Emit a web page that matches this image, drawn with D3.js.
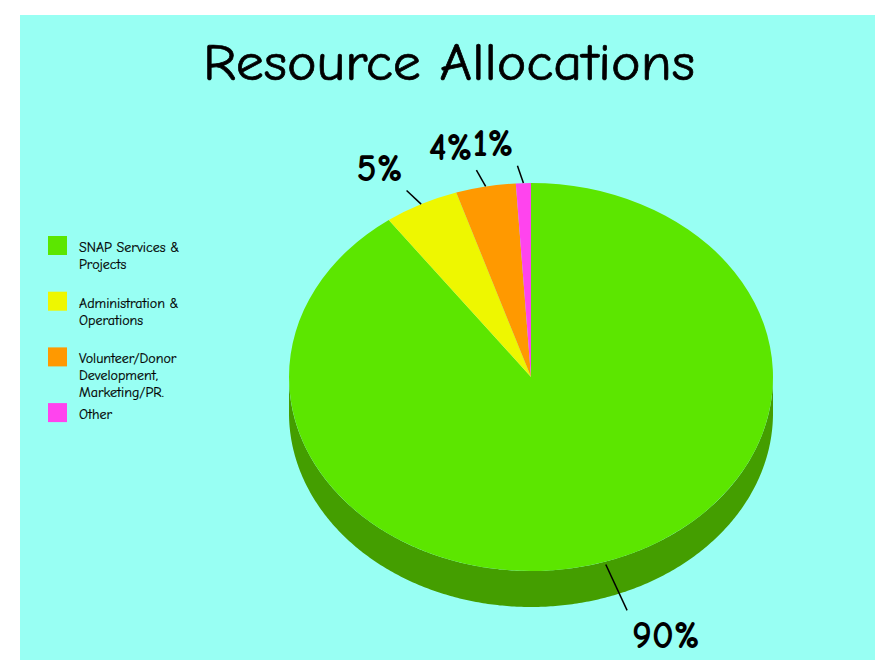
<!DOCTYPE html>
<html>
<head>
<meta charset="utf-8">
<script src="https://cdnjs.cloudflare.com/ajax/libs/d3/7.8.5/d3.min.js"></script>
<style>
  body { margin: 0; background: #fff; }
  svg { display: block; }
  text { font-family: "Comic Sans MS", "Comic Neue", "DejaVu Sans", sans-serif; fill: #000; }
</style>
</head>
<body>
<div id="vis"></div>
<script>
// chart data
var categories = ["SNAP Services & Projects", "Administration & Operations",
                  "Volunteer/Donor Development, Marketing/PR.", "Other"];
var legendLines = [["SNAP Services &", "Projects"],
                   ["Administration &", "Operations"],
                   ["Volunteer/Donor", "Development,", "Marketing/PR."],
                   ["Other"]];
var values = [90, 5, 4, 1];
var colors = ["#5ce600", "#eef700", "#ff9900", "#ff44ee"];
var sideColors = ["#449e00", "#b2b900", "#bf7300", "#bf33b2"];

var width = 891,
    height = 660;

var svg = d3.select("#vis").append("svg")
    .attr("width", width)
    .attr("height", height);

svg.append("rect")
    .attr("x", 20).attr("y", 15)
    .attr("width", width - 36).attr("height", height - 15)
    .attr("fill", "#98fff3");

svg.append("text")
    .attr("x", 449).attr("y", 80)
    .attr("text-anchor", "middle")
    .attr("font-size", 53)
    .attr("textLength", 492)
    .attr("lengthAdjust", "spacingAndGlyphs")
    .attr("stroke", "#000").attr("stroke-width", 0.7)
    .text("Resource Allocations");

// pie geometry
var cx = 531, cy = 377, rx = 242, ry = 194, depth = 36;
var sy = ry / rx;

var pie = d3.pie().sort(null).value(function(d) { return d; });
var arcs = pie(values);

function pt(a, r) {
  return [cx + Math.sin(a) * rx * r, cy - Math.cos(a) * ry * r];
}

// side wall (only the front half is visible)
var line = d3.line();
var side = svg.append("g").attr("class", "side");
arcs.forEach(function(d, i) {
  var a0 = Math.max(d.startAngle, Math.PI / 2),
      a1 = Math.min(d.endAngle, Math.PI * 1.5);
  if (a1 <= a0) return;
  var steps = d3.range(a0, a1, 0.01).concat([a1]);
  var top = steps.map(function(a) { return pt(a, 1); });
  var bottom = steps.slice().reverse().map(function(a) {
    var p = pt(a, 1); return [p[0], p[1] + depth];
  });
  side.append("path")
      .attr("d", line(top.concat(bottom)) + "Z")
      .attr("fill", sideColors[i]);
});

// top face
var arc = d3.arc().innerRadius(0).outerRadius(rx);
svg.append("g")
    .attr("transform", "translate(" + cx + "," + cy + ") scale(1," + sy + ")")
  .selectAll("path")
  .data(arcs)
  .enter().append("path")
    .attr("d", arc)
    .attr("fill", function(d, i) { return colors[i]; });

// leader lines and percent labels
var labels = svg.append("g").attr("class", "labels");
arcs.forEach(function(d, i) {
  var mid = (d.startAngle + d.endAngle) / 2;
  var front = Math.cos(mid) < 0;
  var p0 = pt(mid, 1);
  var p1 = pt(mid - 0.02, front ? 1.11 : 1.09);
  if (front) { p0[1] += 3; p1[1] += depth - 6; p1[0] += 8; }
  labels.append("line")
      .attr("x1", p0[0]).attr("y1", p0[1])
      .attr("x2", p1[0]).attr("y2", p1[1])
      .attr("stroke", "#000").attr("stroke-width", 1.5);
  labels.append("text")
      .attr("x", front ? p1[0] + 5 : p1[0] - 4)
      .attr("y", front ? p1[1] + 38 : p1[1] - 10)
      .attr("text-anchor", front ? "start" : "end")
      .attr("font-size", 38)
      .attr("font-weight", "bold")
      .text(values[i] + "%");
});

// legend
var legend = svg.append("g").attr("class", "legend")
  .selectAll("g")
  .data(categories)
  .enter().append("g")
    .attr("transform", function(d, i) { return "translate(48," + (236 + i * 55.7) + ")"; });

legend.append("rect")
    .attr("width", 19).attr("height", 19)
    .attr("fill", function(d, i) { return colors[i]; });

legend.append("text")
    .attr("x", 31).attr("y", 16)
    .attr("font-size", 14)
    .attr("stroke", "#000").attr("stroke-width", 0.2)
  .selectAll("tspan")
  .data(function(d, i) { return legendLines[i]; })
  .enter().append("tspan")
    .attr("x", 31)
    .attr("dy", function(d, j) { return j ? 17 : 0; })
    .text(function(d) { return d; });
</script>
</body>
</html>
